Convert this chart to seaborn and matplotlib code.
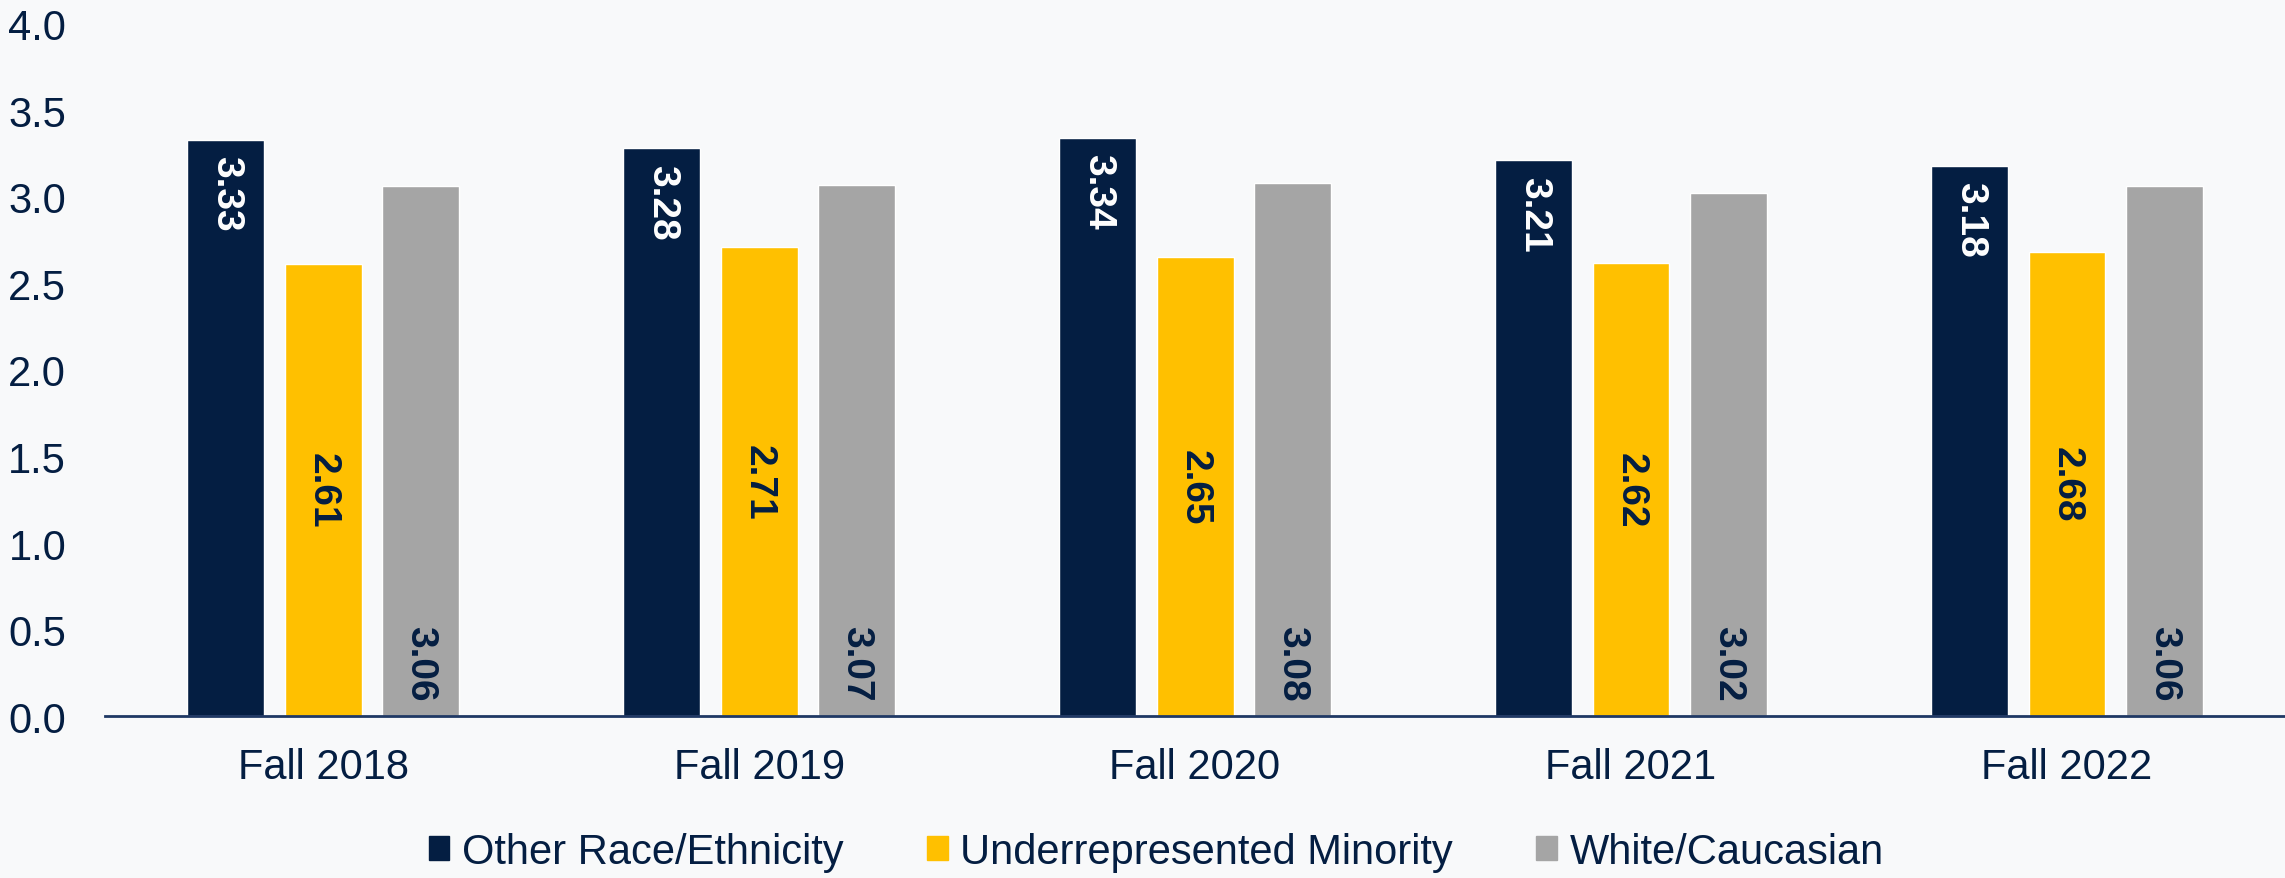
import matplotlib
matplotlib.use("Agg")
import matplotlib.pyplot as plt
import pandas as pd
import seaborn as sns

# chart data
terms = ["Fall 2018", "Fall 2019", "Fall 2020", "Fall 2021", "Fall 2022"]
groups = ["Other Race/Ethnicity", "Underrepresented Minority", "White/Caucasian"]
other_race = [3.33, 3.28, 3.34, 3.21, 3.18]
urm = [2.61, 2.71, 2.65, 2.62, 2.68]
white = [3.06, 3.07, 3.08, 3.02, 3.06]
y_ticks = [0.0, 0.5, 1.0, 1.5, 2.0, 2.5, 3.0, 3.5, 4.0]

NAVY = "#041E42"
GOLD = "#FFC000"
GRAY = "#A5A5A5"
BG = "#F8F9FA"
TEXT = "#041E42"

sns.set_theme(style="white")
plt.rcParams["font.family"] = ["Liberation Sans", "DejaVu Sans"]

df = pd.DataFrame({
    "term": terms * 3,
    "group": [groups[0]] * 5 + [groups[1]] * 5 + [groups[2]] * 5,
    "gpa": other_race + urm + white,
})

fig = plt.figure(figsize=(22.85, 8.79), dpi=100, facecolor=BG)
ax = fig.add_axes([0.046, 0.184, 0.954, 0.788])
ax.set_facecolor(BG)

palette = {groups[0]: NAVY, groups[1]: GOLD, groups[2]: GRAY}
sns.barplot(data=df, x="term", y="gpa", hue="group", hue_order=groups,
            order=terms, palette=palette, width=0.67, gap=0.21,
            saturation=1, ax=ax, legend=True)

# value labels, rotated like the original
for container, grp in zip(ax.containers, groups):
    for bar in container:
        x = bar.get_x() + bar.get_width() / 2
        h = bar.get_height()
        txt = f"{h:.2f}"
        if grp == groups[0]:
            ax.annotate(txt, (x, h), xytext=(0, -11), textcoords="offset points",
                        rotation=270, ha="center", va="top", color="white",
                        fontsize=28, fontweight="bold")
        elif grp == groups[1]:
            ax.annotate(txt, (x, h / 2), rotation=270, ha="center", va="center",
                        color=NAVY, fontsize=28, fontweight="bold")
        else:
            ax.annotate(txt, (x, 0), xytext=(0, 11), textcoords="offset points",
                        rotation=270, ha="center", va="bottom", color=NAVY,
                        fontsize=28, fontweight="bold")

ax.set_xlim(-0.5, 4.5)
ax.set_ylim(0, 4.0)
ax.set_yticks(y_ticks)
ax.set_yticklabels([f"{v:.1f}" for v in y_ticks])
ax.set_xlabel("")
ax.set_ylabel("")
ax.tick_params(axis="y", length=0, pad=28, labelsize=30, labelcolor=TEXT)
ax.tick_params(axis="x", length=0, pad=22, labelsize=30, labelcolor=TEXT)

for side in ["top", "right", "left"]:
    ax.spines[side].set_visible(False)
ax.spines["bottom"].set_color("#1F3864")
ax.spines["bottom"].set_linewidth(2.0)

ax.legend_.remove()
handles = [plt.Rectangle((0, 0), 1, 1, color=palette[g]) for g in groups]
leg = fig.legend(handles, groups, loc="center", bbox_to_anchor=(0.506, 0.03),
                 ncol=3, frameon=False, fontsize=30, handlelength=0.5,
                 handleheight=0.5, handletextpad=0.3, columnspacing=2.0)
for t in leg.get_texts():
    t.set_color(TEXT)

fig.savefig("out.png", dpi=100, facecolor=BG)
